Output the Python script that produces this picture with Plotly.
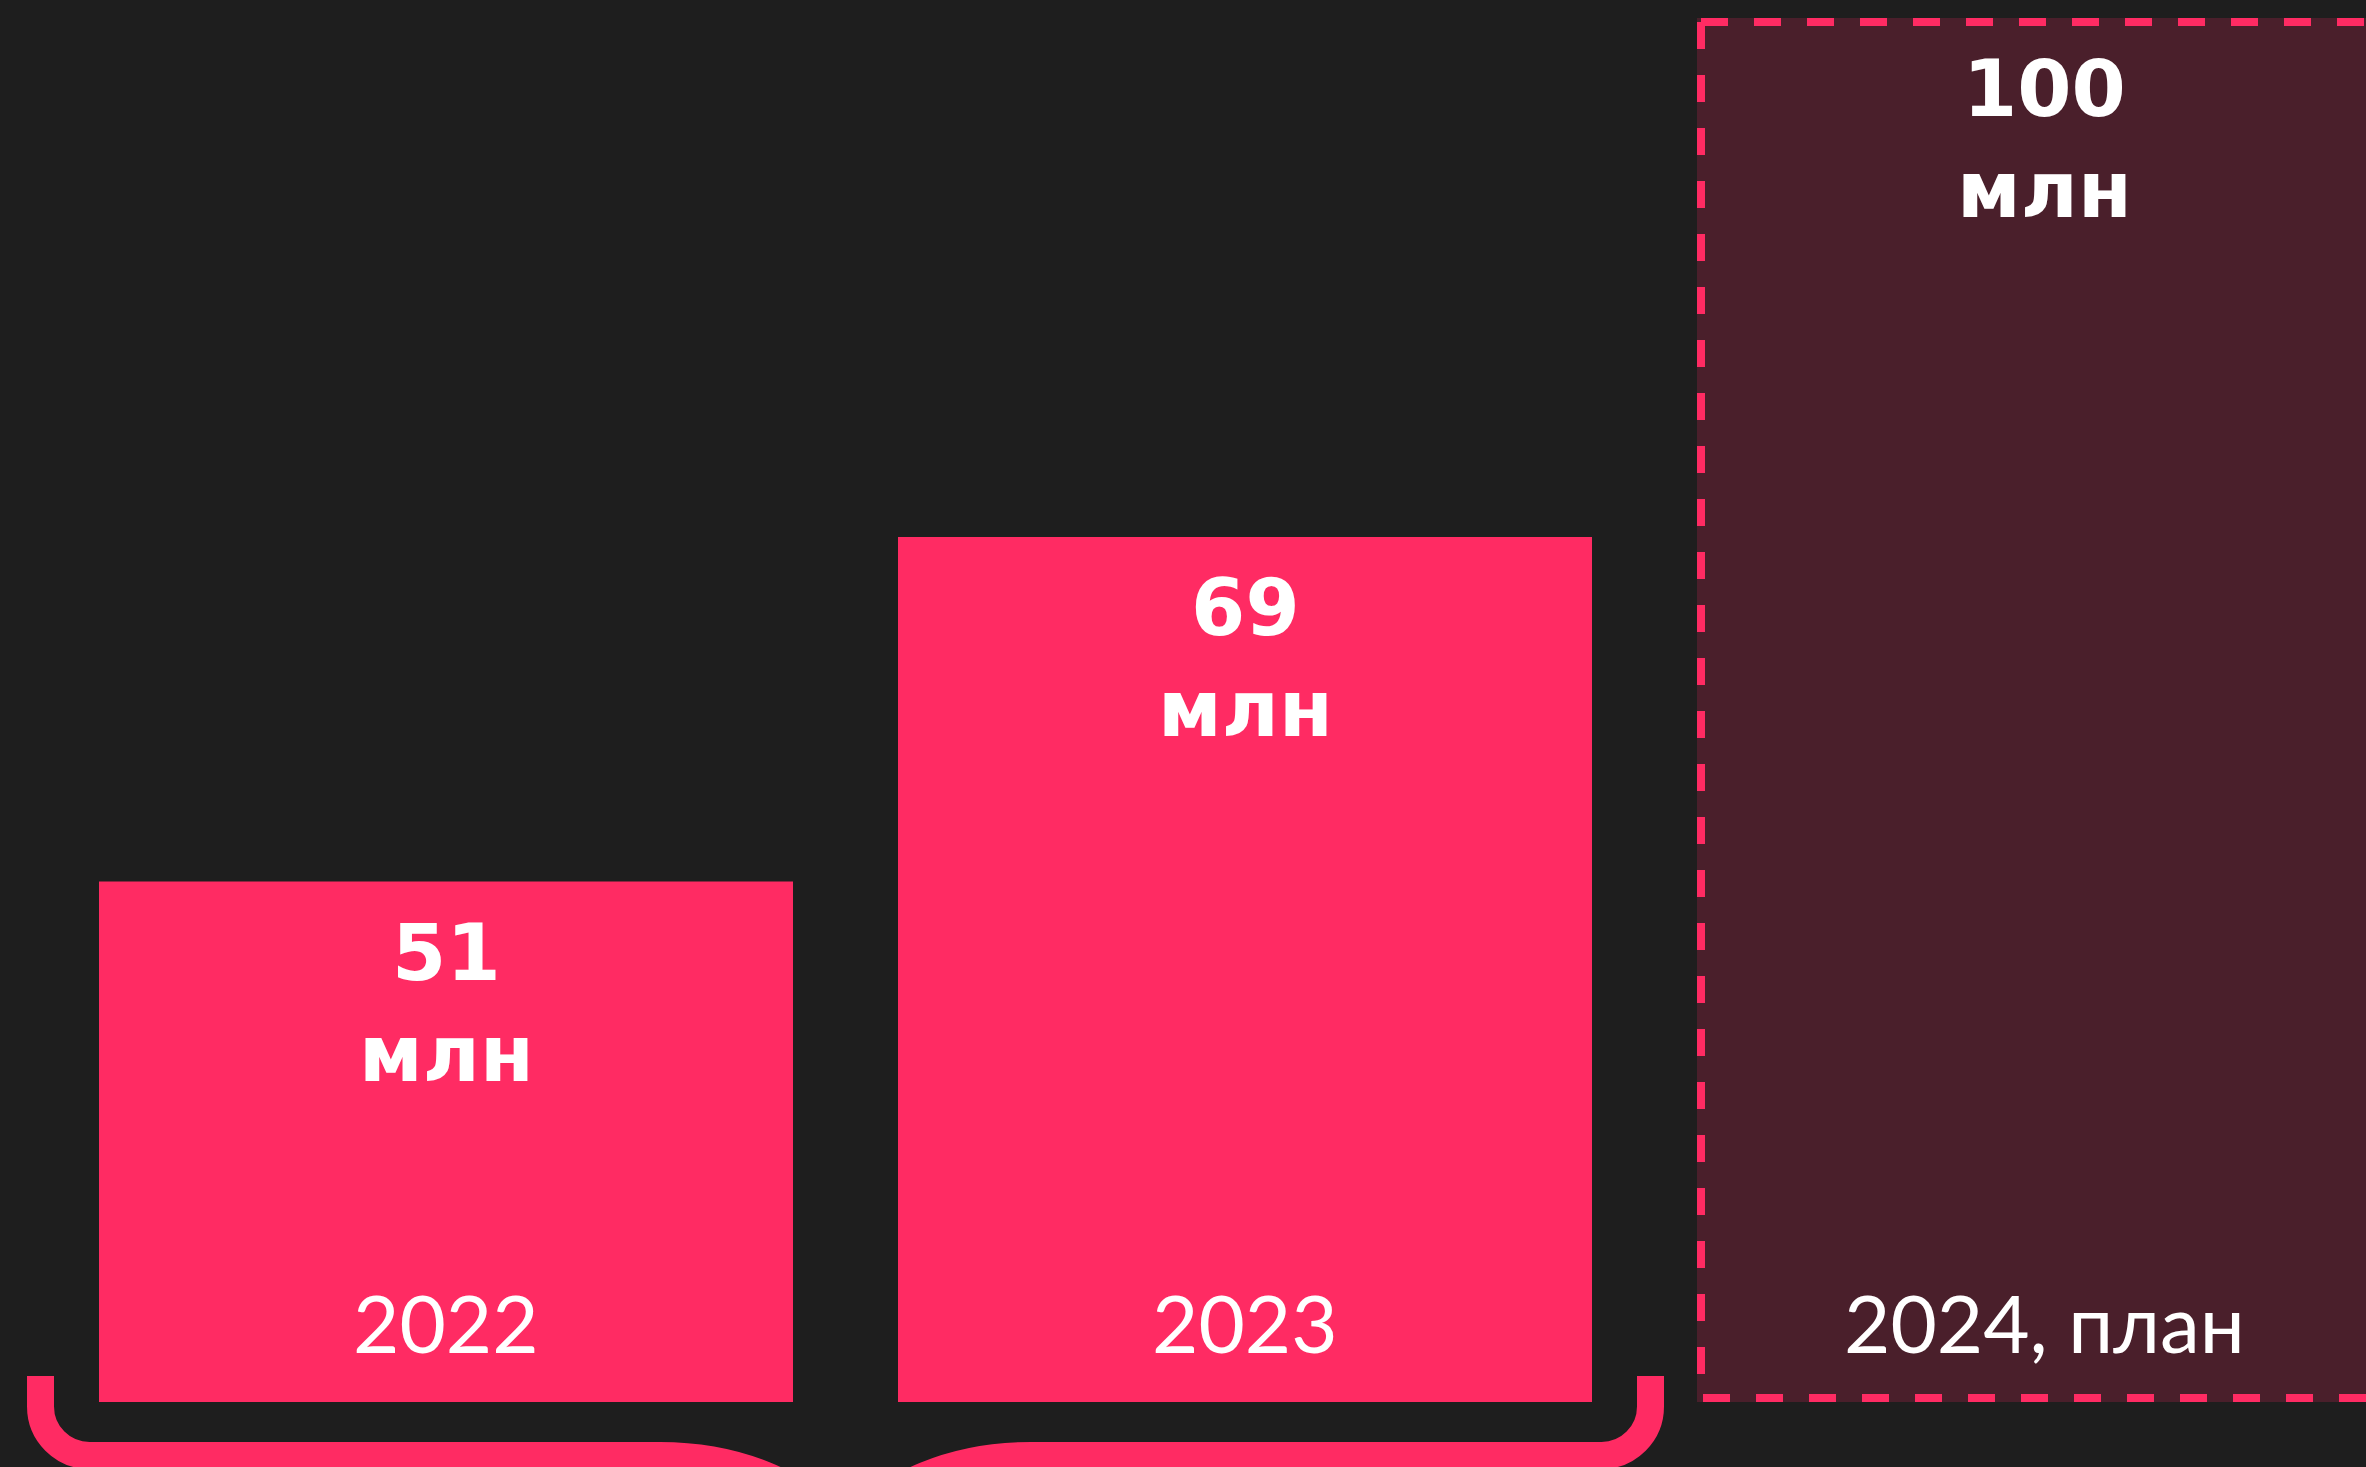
import plotly.graph_objects as go

# ---- data ----
years = ["2022", "2023", "2024, план"]
values_mln = [51, 69, 100]              # value labels
unit_label = "млн"
bar_heights = [37.6, 62.5, 100.0]       # drawn bar heights (relative, 2024 = 100)
is_plan = [False, False, True]

# ---- style ----
BG = "#1E1E1E"
PINK = "#FF2B63"
PLAN_FILL = "#4A1F2B"
W, H = 2366, 1467
BAR_W = 0.8686
X_RANGE = [-0.5582, 2.4030]
Y_RANGE = [-4.697, 101.30]
PX_X = (X_RANGE[1] - X_RANGE[0]) / W   # data units per pixel
PX_Y = (Y_RANGE[1] - Y_RANGE[0]) / H

xs = list(range(len(years)))
colors = [PLAN_FILL if p else PINK for p in is_plan]

fig = go.Figure()
fig.add_trace(go.Bar(
    x=xs, y=bar_heights, width=BAR_W,
    marker=dict(color=colors, line=dict(width=0)),
    hoverinfo="skip",
))

# value / unit / year labels
annotations = []
for i, (yr, v, h) in enumerate(zip(years, values_mln, bar_heights)):
    annotations.append(dict(x=i, y=h, xref="x", yref="y", text=f"{v}<br>{unit_label}",
                            showarrow=False, yanchor="middle", xanchor="center",
                            yshift=-122,
                            font=dict(family="DejaVu Sans", size=78, color="white", weight=700)))
    annotations.append(dict(x=i, y=0, xref="x", yref="y", text=yr,
                            showarrow=False, yanchor="middle", xanchor="center",
                            yshift=80,
                            font=dict(family="Lato", size=80, color="white", weight=400)))

shapes = []
# dashed outline of plan bar (stroke kept inside the bar)
for i, (h, p) in enumerate(zip(bar_heights, is_plan)):
    if not p:
        continue
    inset_x = 4 * PX_X
    inset_y = 4 * PX_Y
    x0 = i - BAR_W / 2 + inset_x
    x1 = i + BAR_W / 2 - inset_x
    y0 = 0 + inset_y
    y1 = h - inset_y
    for path in (f"M{x0},{y1} H{x1}", f"M{x0},{y1} V{y0} H{x1}"):
        shapes.append(dict(type="path", xref="x", yref="y", path=path,
                           line=dict(color=PINK, width=8, dash="27px,26px"),
                           fillcolor="rgba(0,0,0,0)"))

# curly brace under the actual (non-plan) bars
actual = [i for i, p in enumerate(is_plan) if not p]
xl = actual[0] - 0.5075
xr = actual[-1] + 0.5075
xc = (xl + xr) / 2
y_top = 26 * PX_Y
y_band = -53.5 * PX_Y
R = 49
K = 0.5523
rx, ry = R * PX_X, R * PX_Y
flat_end = 185.5 * PX_X
c1 = 115.5 * PX_X
c2 = 35.5 * PX_X
y_c2 = -78 * PX_Y
y_tip = -138 * PX_Y

def half(sign, xe):
    # from outer end toward centre
    return (f"M{xe},{y_top} V{y_band + ry} "
            f"C{xe},{y_band + ry * (1 - K)} {xe + sign * rx * (1 - K)},{y_band} {xe + sign * rx},{y_band} "
            f"H{xc - sign * flat_end} C{xc - sign * c1},{y_band} {xc - sign * c2},{y_c2} {xc},{y_tip}")

for sign, xe in ((1, xl), (-1, xr)):
    shapes.append(dict(type="path", xref="x", yref="y", path=half(sign, xe),
                       line=dict(color=PINK, width=27), fillcolor="rgba(0,0,0,0)"))

fig.update_layout(
    width=W, height=H,
    margin=dict(l=0, r=0, t=0, b=0),
    paper_bgcolor=BG, plot_bgcolor=BG,
    showlegend=False,
    xaxis=dict(range=X_RANGE, visible=False, showgrid=False, zeroline=False, fixedrange=True),
    yaxis=dict(range=Y_RANGE, visible=False, showgrid=False, zeroline=False, fixedrange=True),
    annotations=annotations,
    shapes=shapes,
)

fig.write_html("out.html", config={"displayModeBar": False})
